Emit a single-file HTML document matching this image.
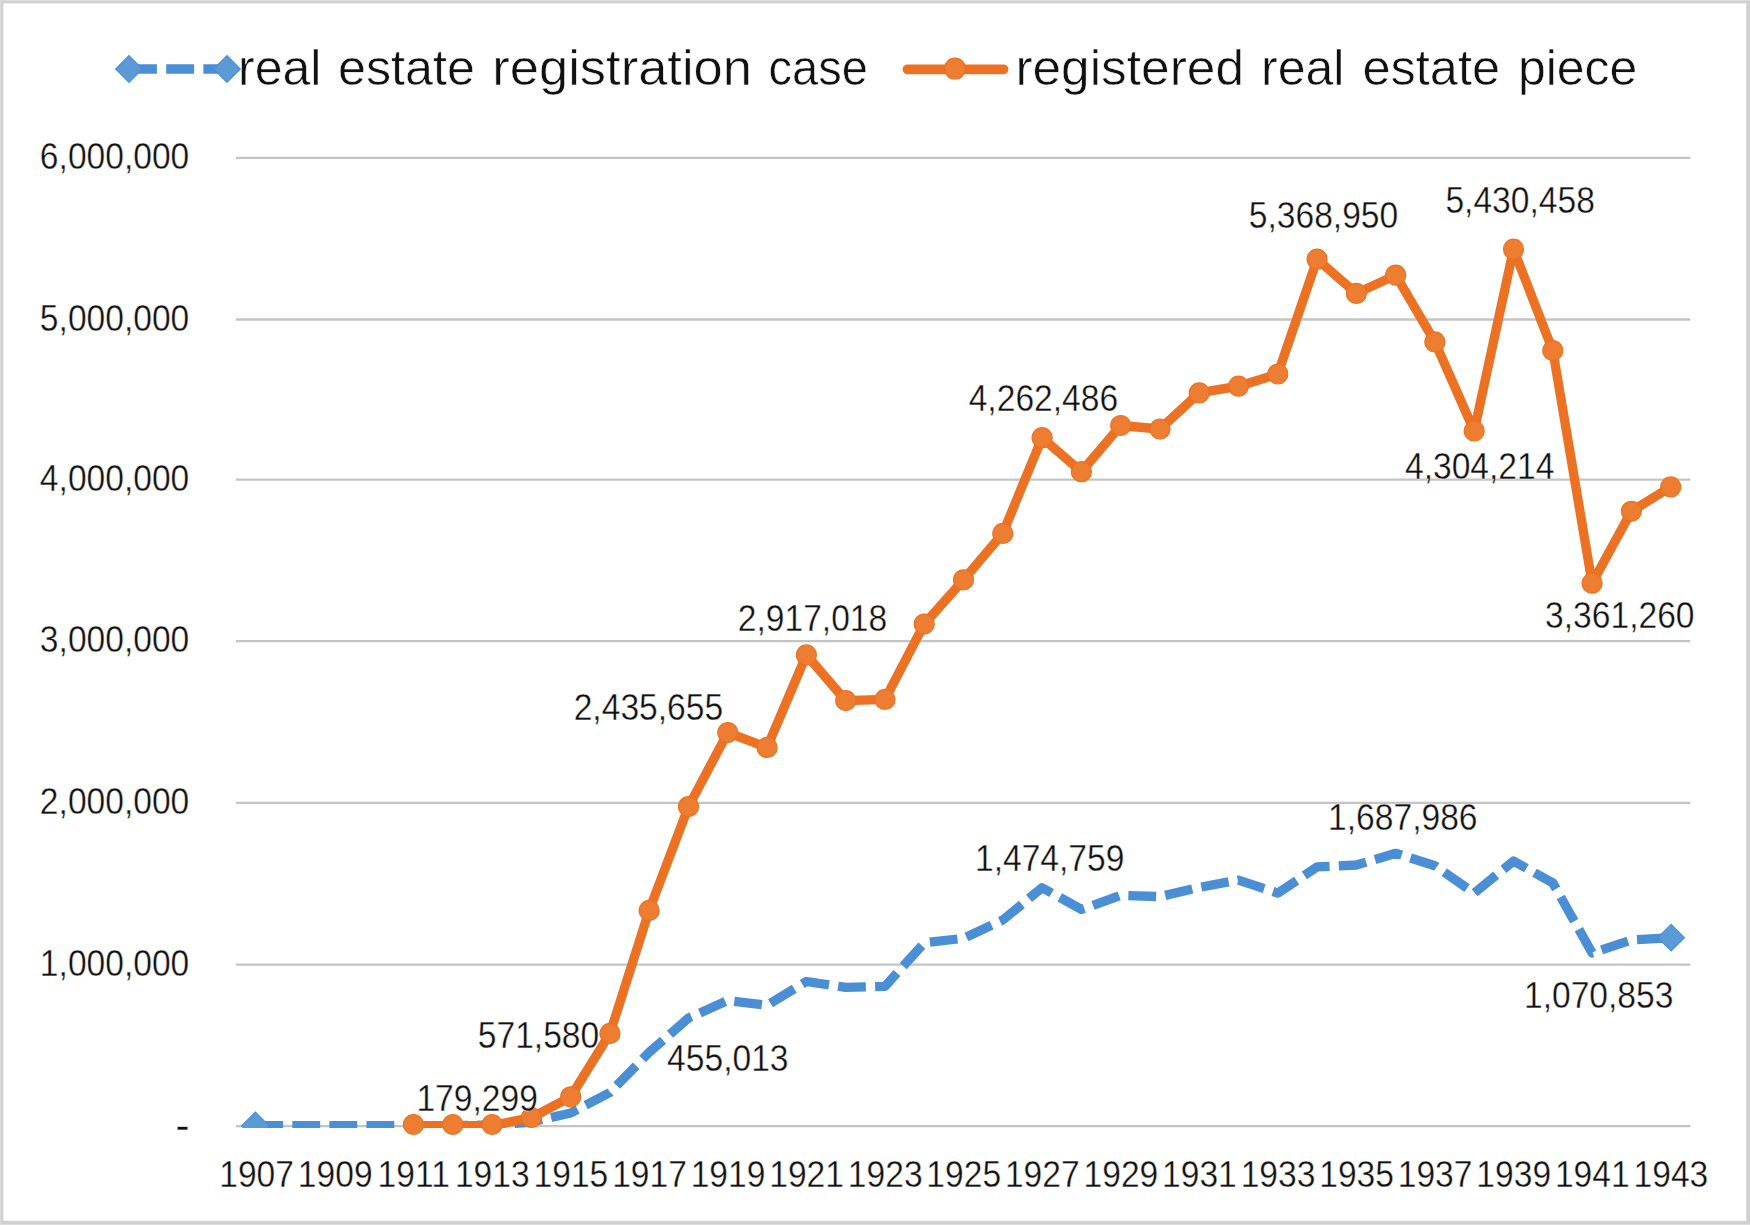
<!DOCTYPE html>
<html lang="en"><head><meta charset="utf-8"><title>Real estate registration chart</title>
<style>html,body{margin:0;padding:0;background:#fff}svg{display:block}text{stroke:#fff;stroke-width:0.35px;stroke-linejoin:round}#leg1,#leg2{stroke-width:0.55px}</style></head>
<body>
<svg width="1750" height="1225" viewBox="0 0 1750 1225" font-family="&quot;Liberation Sans&quot;, sans-serif" font-weight="400" fill="#111111">
<defs><clipPath id="plotclip"><rect x="0" y="0" width="1750" height="1128"/></clipPath></defs>
<rect x="0" y="0" width="1750" height="1225" fill="#fff"/>
<line x1="236.0" x2="1690.3" y1="1126.1" y2="1126.1" stroke="#C4C4C4" stroke-width="2.3"/>
<line x1="236.0" x2="1690.3" y1="964.6" y2="964.6" stroke="#C4C4C4" stroke-width="2.3"/>
<line x1="236.0" x2="1690.3" y1="802.9" y2="802.9" stroke="#C4C4C4" stroke-width="2.3"/>
<line x1="236.0" x2="1690.3" y1="641.1" y2="641.1" stroke="#C4C4C4" stroke-width="2.3"/>
<line x1="236.0" x2="1690.3" y1="479.6" y2="479.6" stroke="#C4C4C4" stroke-width="2.3"/>
<line x1="236.0" x2="1690.3" y1="319.5" y2="319.5" stroke="#C4C4C4" stroke-width="2.3"/>
<line x1="236.0" x2="1690.3" y1="157.9" y2="157.9" stroke="#C4C4C4" stroke-width="2.3"/>
<g font-size="36.4" text-anchor="end">
<text transform="translate(189.3 168.9) scale(0.9231 1)">6,000,000</text>
<text transform="translate(189.3 330.5) scale(0.9231 1)">5,000,000</text>
<text transform="translate(189.3 490.6) scale(0.9231 1)">4,000,000</text>
<text transform="translate(189.3 652.1) scale(0.9231 1)">3,000,000</text>
<text transform="translate(189.3 813.9) scale(0.9231 1)">2,000,000</text>
<text transform="translate(189.3 975.6) scale(0.9231 1)">1,000,000</text>
<text x="189.6" y="1139.6" font-size="42">-</text>
</g>
<g font-size="36.4" text-anchor="middle">
<text transform="translate(256.6 1186.9) scale(0.9231 1)">1907</text>
<text transform="translate(335.2 1186.9) scale(0.9231 1)">1909</text>
<text transform="translate(413.7 1186.9) scale(0.9231 1)">1911</text>
<text transform="translate(492.3 1186.9) scale(0.9231 1)">1913</text>
<text transform="translate(570.9 1186.9) scale(0.9231 1)">1915</text>
<text transform="translate(649.5 1186.9) scale(0.9231 1)">1917</text>
<text transform="translate(728.0 1186.9) scale(0.9231 1)">1919</text>
<text transform="translate(806.6 1186.9) scale(0.9231 1)">1921</text>
<text transform="translate(885.2 1186.9) scale(0.9231 1)">1923</text>
<text transform="translate(963.7 1186.9) scale(0.9231 1)">1925</text>
<text transform="translate(1042.3 1186.9) scale(0.9231 1)">1927</text>
<text transform="translate(1120.9 1186.9) scale(0.9231 1)">1929</text>
<text transform="translate(1199.4 1186.9) scale(0.9231 1)">1931</text>
<text transform="translate(1278.0 1186.9) scale(0.9231 1)">1933</text>
<text transform="translate(1356.6 1186.9) scale(0.9231 1)">1935</text>
<text transform="translate(1435.1 1186.9) scale(0.9231 1)">1937</text>
<text transform="translate(1513.7 1186.9) scale(0.9231 1)">1939</text>
<text transform="translate(1592.3 1186.9) scale(0.9231 1)">1941</text>
<text transform="translate(1670.9 1186.9) scale(0.9231 1)">1943</text>
</g>
<g clip-path="url(#plotclip)">
<polyline points="256.4,1125.7 295.7,1125.7 335.0,1125.7 374.3,1125.7 413.5,1125.7 452.8,1125.5 492.1,1125.0 531.4,1122.0 570.7,1113.0 610.0,1092.5 649.2,1052.3 688.5,1018.0 727.8,1000.5 767.1,1005.3 806.4,981.5 845.7,987.4 885.0,986.3 924.2,942.9 963.5,938.3 1002.8,920.0 1042.1,887.7 1081.4,909.4 1120.7,895.4 1160.0,896.6 1199.2,887.4 1238.5,880.1 1277.8,893.1 1317.1,866.9 1356.4,865.0 1395.7,853.3 1434.9,865.7 1474.2,893.1 1513.5,861.1 1552.8,882.9 1592.1,952.9 1631.4,940.0 1670.7,937.7" fill="none" stroke="#4A8ED6" stroke-width="9.3" stroke-dasharray="27.8 9.25" stroke-dashoffset="1.1" stroke-linejoin="round"/>
<path d="M241.6 1125.9L255.4 1112.1L269.2 1125.9L255.4 1139.7Z" fill="#5B9BD5" stroke="#4A8ED6" stroke-width="1.2"/>
</g>
<path d="M1657.8 937.7L1671.1 924.4L1684.4 937.7L1671.1 951.0Z" fill="#5B9BD5" stroke="#4A8ED6" stroke-width="1.2"/>
<g clip-path="url(#plotclip)">
<polyline points="413.5,1125.6 452.8,1125.6 492.1,1125.6 531.4,1117.6 570.7,1096.8 610.0,1033.4 649.2,910.4 688.5,806.6 727.8,732.6 767.1,747.4 806.4,654.9 845.7,700.6 885.0,699.4 924.2,624.1 963.5,579.8 1002.8,533.4 1042.1,437.7 1081.4,471.7 1120.7,425.5 1160.0,429.0 1199.2,392.9 1238.5,386.2 1277.8,374.0 1317.1,259.2 1356.4,293.4 1395.7,275.1 1434.9,341.9 1474.2,431.0 1513.5,249.2 1552.8,350.6 1592.1,583.2 1631.4,511.3 1670.7,486.9" fill="none" stroke="#EC7122" stroke-width="9.3" stroke-linejoin="round" stroke-linecap="round"/>
</g>
<circle cx="413.5" cy="1124.5" r="10.0" fill="#ED7D31" stroke="#EC7122" stroke-width="1.2"/>
<circle cx="452.8" cy="1124.5" r="10.0" fill="#ED7D31" stroke="#EC7122" stroke-width="1.2"/>
<circle cx="492.1" cy="1124.5" r="10.0" fill="#ED7D31" stroke="#EC7122" stroke-width="1.2"/>
<circle cx="531.4" cy="1117.6" r="10.0" fill="#ED7D31" stroke="#EC7122" stroke-width="1.2"/>
<circle cx="570.7" cy="1096.8" r="10.0" fill="#ED7D31" stroke="#EC7122" stroke-width="1.2"/>
<circle cx="610.0" cy="1033.4" r="10.0" fill="#ED7D31" stroke="#EC7122" stroke-width="1.2"/>
<circle cx="649.2" cy="910.4" r="10.0" fill="#ED7D31" stroke="#EC7122" stroke-width="1.2"/>
<circle cx="688.5" cy="806.6" r="10.0" fill="#ED7D31" stroke="#EC7122" stroke-width="1.2"/>
<circle cx="727.8" cy="732.6" r="10.0" fill="#ED7D31" stroke="#EC7122" stroke-width="1.2"/>
<circle cx="767.1" cy="747.4" r="10.0" fill="#ED7D31" stroke="#EC7122" stroke-width="1.2"/>
<circle cx="806.4" cy="654.9" r="10.0" fill="#ED7D31" stroke="#EC7122" stroke-width="1.2"/>
<circle cx="845.7" cy="700.6" r="10.0" fill="#ED7D31" stroke="#EC7122" stroke-width="1.2"/>
<circle cx="885.0" cy="699.4" r="10.0" fill="#ED7D31" stroke="#EC7122" stroke-width="1.2"/>
<circle cx="924.2" cy="624.1" r="10.0" fill="#ED7D31" stroke="#EC7122" stroke-width="1.2"/>
<circle cx="963.5" cy="579.8" r="10.0" fill="#ED7D31" stroke="#EC7122" stroke-width="1.2"/>
<circle cx="1002.8" cy="533.4" r="10.0" fill="#ED7D31" stroke="#EC7122" stroke-width="1.2"/>
<circle cx="1042.1" cy="437.7" r="10.0" fill="#ED7D31" stroke="#EC7122" stroke-width="1.2"/>
<circle cx="1081.4" cy="471.7" r="10.0" fill="#ED7D31" stroke="#EC7122" stroke-width="1.2"/>
<circle cx="1120.7" cy="425.5" r="10.0" fill="#ED7D31" stroke="#EC7122" stroke-width="1.2"/>
<circle cx="1160.0" cy="429.0" r="10.0" fill="#ED7D31" stroke="#EC7122" stroke-width="1.2"/>
<circle cx="1199.2" cy="392.9" r="10.0" fill="#ED7D31" stroke="#EC7122" stroke-width="1.2"/>
<circle cx="1238.5" cy="386.2" r="10.0" fill="#ED7D31" stroke="#EC7122" stroke-width="1.2"/>
<circle cx="1277.8" cy="374.0" r="10.0" fill="#ED7D31" stroke="#EC7122" stroke-width="1.2"/>
<circle cx="1317.1" cy="259.2" r="10.0" fill="#ED7D31" stroke="#EC7122" stroke-width="1.2"/>
<circle cx="1356.4" cy="293.4" r="10.0" fill="#ED7D31" stroke="#EC7122" stroke-width="1.2"/>
<circle cx="1395.7" cy="275.1" r="10.0" fill="#ED7D31" stroke="#EC7122" stroke-width="1.2"/>
<circle cx="1434.9" cy="341.9" r="10.0" fill="#ED7D31" stroke="#EC7122" stroke-width="1.2"/>
<circle cx="1474.2" cy="431.0" r="10.0" fill="#ED7D31" stroke="#EC7122" stroke-width="1.2"/>
<circle cx="1513.5" cy="249.2" r="10.0" fill="#ED7D31" stroke="#EC7122" stroke-width="1.2"/>
<circle cx="1552.8" cy="350.6" r="10.0" fill="#ED7D31" stroke="#EC7122" stroke-width="1.2"/>
<circle cx="1592.1" cy="583.2" r="10.0" fill="#ED7D31" stroke="#EC7122" stroke-width="1.2"/>
<circle cx="1631.4" cy="511.3" r="10.0" fill="#ED7D31" stroke="#EC7122" stroke-width="1.2"/>
<circle cx="1670.7" cy="486.9" r="10.0" fill="#ED7D31" stroke="#EC7122" stroke-width="1.2"/>
<g font-size="36.4" text-anchor="middle">
<text transform="translate(477.1 1111.2) scale(0.9231 1)">179,299</text>
<text transform="translate(538.5 1047.7) scale(0.9231 1)">571,580</text>
<text transform="translate(727.8 1070.5) scale(0.9231 1)">455,013</text>
<text transform="translate(648.4 719.8) scale(0.9231 1)">2,435,655</text>
<text transform="translate(812.5 631.0) scale(0.9231 1)">2,917,018</text>
<text transform="translate(1043.4 410.7) scale(0.9231 1)">4,262,486</text>
<text transform="translate(1049.7 871.1) scale(0.9231 1)">1,474,759</text>
<text transform="translate(1323.5 227.7) scale(0.9231 1)">5,368,950</text>
<text transform="translate(1520.1 213.2) scale(0.9231 1)">5,430,458</text>
<text transform="translate(1479.7 479.4) scale(0.9231 1)">4,304,214</text>
<text transform="translate(1619.8 627.5) scale(0.9231 1)">3,361,260</text>
<text transform="translate(1402.8 830.1) scale(0.9231 1)">1,687,986</text>
<text transform="translate(1598.7 1008.4) scale(0.9231 1)">1,070,853</text>
</g>
<line x1="129" x2="227" y1="69" y2="69" stroke="#4A8ED6" stroke-width="9.3" stroke-dasharray="27.9 9.3"/>
<path d="M115.7 69.0L129.0 55.7L142.3 69.0L129.0 82.3Z" fill="#5B9BD5" stroke="#4A8ED6" stroke-width="1.2"/>
<path d="M213.7 69.0L227.0 55.7L240.3 69.0L227.0 82.3Z" fill="#5B9BD5" stroke="#4A8ED6" stroke-width="1.2"/>
<line x1="907.5" x2="1003.5" y1="69.3" y2="69.3" stroke="#EC7122" stroke-width="9.8" stroke-linecap="round"/>
<circle cx="955" cy="68.6" r="10.4" fill="#ED7D31" stroke="#EC7122" stroke-width="1.2"/>
<text id="leg1" y="84.8" font-size="50.0" xml:space="preserve"><tspan x="238.0" textLength="83.4" lengthAdjust="spacingAndGlyphs">real</tspan> <tspan x="338.0" textLength="137.0" lengthAdjust="spacingAndGlyphs">estate</tspan> <tspan x="492.3" textLength="259.7" lengthAdjust="spacingAndGlyphs">registration</tspan> <tspan x="768.6" textLength="99.3" lengthAdjust="spacingAndGlyphs">case</tspan></text>
<text id="leg2" y="84.8" font-size="50.0" xml:space="preserve"><tspan x="1015.4" textLength="228.6" lengthAdjust="spacingAndGlyphs">registered</tspan> <tspan x="1261.0" textLength="83.4" lengthAdjust="spacingAndGlyphs">real</tspan> <tspan x="1362.5" textLength="137.5" lengthAdjust="spacingAndGlyphs">estate</tspan> <tspan x="1518.0" textLength="119.3" lengthAdjust="spacingAndGlyphs">piece</tspan></text>
<g fill="#D1D1D1"><rect x="0" y="0" width="1750" height="3.4"/><rect x="0" y="0" width="3.4" height="1225"/><rect x="1746.2" y="0" width="3.8" height="1225"/><rect x="0" y="1220.8" width="1750" height="4.2"/></g>
<g fill="#DCDCDC"><rect x="0" y="0" width="1750" height="1"/><rect x="0" y="0" width="1" height="1225"/><rect x="0" y="1224" width="1750" height="1"/></g>
</svg>
</body></html>
